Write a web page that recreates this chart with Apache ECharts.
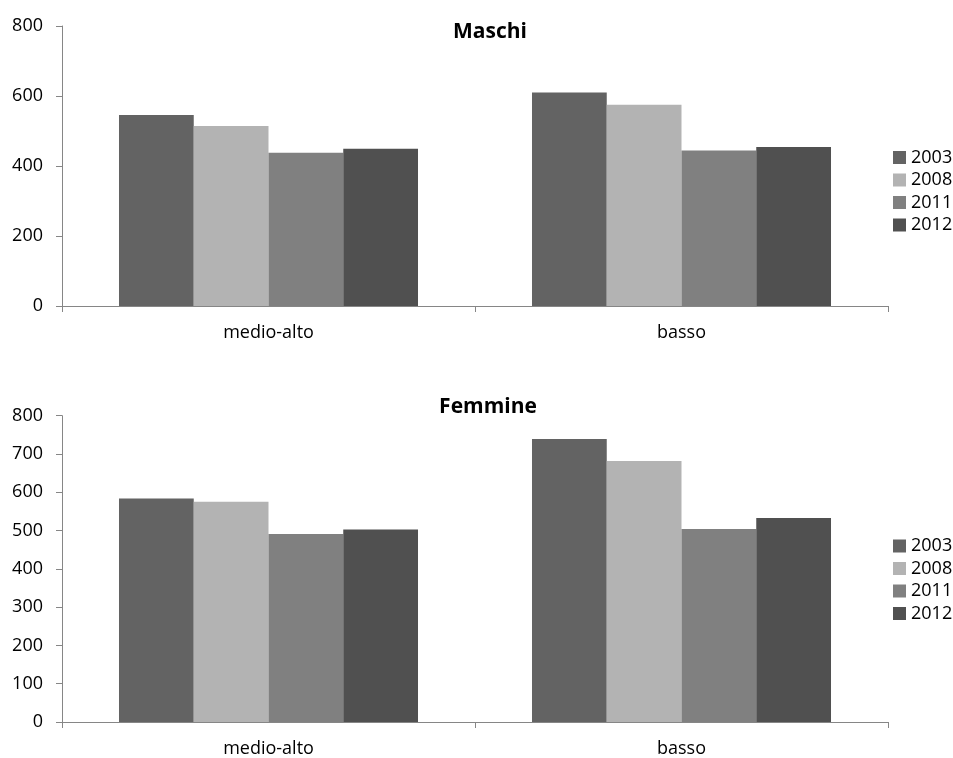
<!DOCTYPE html>
<html><head><meta charset="utf-8">
<script src="https://cdn.jsdelivr.net/npm/echarts@6/dist/echarts.min.js"></script>
<style>html,body{margin:0;padding:0;background:#fff}#c{width:953px;height:758px}</style>
</head><body><div id="c"></div>
<script>
const categories = ['medio-alto', 'basso'];
const years = ['2003', '2008', '2011', '2012'];
const maschi2003 = [546, 610];
const maschi2008 = [514, 575];
const maschi2011 = [438, 444];
const maschi2012 = [449, 454];
const femmine2003 = [584, 739];
const femmine2008 = [575, 682];
const femmine2011 = [491, 504];
const femmine2012 = [503, 533];
const maschiTicks = [0, 200, 400, 600, 800];
const femmineTicks = [0, 100, 200, 300, 400, 500, 600, 700, 800];
const colors = ['#636363', '#b3b3b3', '#808080', '#505050'];
const FONT = 'Open Sans';

const maschi = [maschi2003, maschi2008, maschi2011, maschi2012];
const femmine = [femmine2003, femmine2008, femmine2011, femmine2012];

const axisLine = { lineStyle: { color: '#868686', width: 1 } };
function xAxis(gi) {
  return {
    type: 'category', gridIndex: gi, data: categories,
    axisLine: axisLine,
    axisTick: { show: true, length: 6, lineStyle: { color: '#868686' }, alignWithLabel: false },
    axisLabel: { fontFamily: FONT, fontSize: 18, color: '#000', margin: 18 },
    splitLine: { show: false }
  };
}
function yAxis(gi, ticks) {
  return {
    type: 'value', gridIndex: gi, min: ticks[0], max: ticks[ticks.length - 1],
    interval: ticks[1] - ticks[0],
    axisLine: { show: true, lineStyle: { color: '#868686', width: 1 } },
    axisTick: { show: true, length: 6, lineStyle: { color: '#868686' } },
    axisLabel: { fontFamily: FONT, fontSize: 18, color: '#000', margin: 19 },
    splitLine: { show: false }
  };
}
const series = [];
years.forEach((y, i) => {
  series.push({
    name: y, type: 'bar', xAxisIndex: 0, yAxisIndex: 0, data: maschi[i],
    itemStyle: { color: colors[i] }, barGap: '0%', barCategoryGap: '27.6%'
  });
});
years.forEach((y, i) => {
  series.push({
    name: y, type: 'bar', xAxisIndex: 1, yAxisIndex: 1, data: femmine[i],
    itemStyle: { color: colors[i] }, barGap: '0%', barCategoryGap: '27.6%'
  });
});
const legendBase = {
  orient: 'vertical', left: 893, icon: 'rect', itemWidth: 13, itemHeight: 13,
  itemGap: 4.5, padding: 0, selectedMode: false,
  textStyle: { fontFamily: FONT, fontSize: 18, color: '#000', lineHeight: 18 },
  data: years
};
const chart = echarts.init(document.getElementById('c'), null, { renderer: 'canvas' });
chart.setOption({
  backgroundColor: '#fff',
  animation: false,
  title: [
    { text: 'Maschi', left: 490, top: 22, padding: 0, textAlign: 'center',
      textStyle: { fontFamily: FONT, fontSize: 21, fontWeight: 'bold', color: '#000' } },
    { text: 'Femmine', left: 488, top: 397, padding: 0, textAlign: 'center',
      textStyle: { fontFamily: FONT, fontSize: 21, fontWeight: 'bold', color: '#000' } }
  ],
  legend: [
    Object.assign({}, legendBase, { top: 148.5 }),
    Object.assign({}, legendBase, { top: 537 })
  ],
  grid: [
    { left: 62, right: 65, top: 26, height: 280 },
    { left: 62, right: 65, top: 415.7, height: 306.6 }
  ],
  xAxis: [xAxis(0), xAxis(1)],
  yAxis: [yAxis(0, maschiTicks), yAxis(1, femmineTicks)],
  series: series
});
</script></body></html>
